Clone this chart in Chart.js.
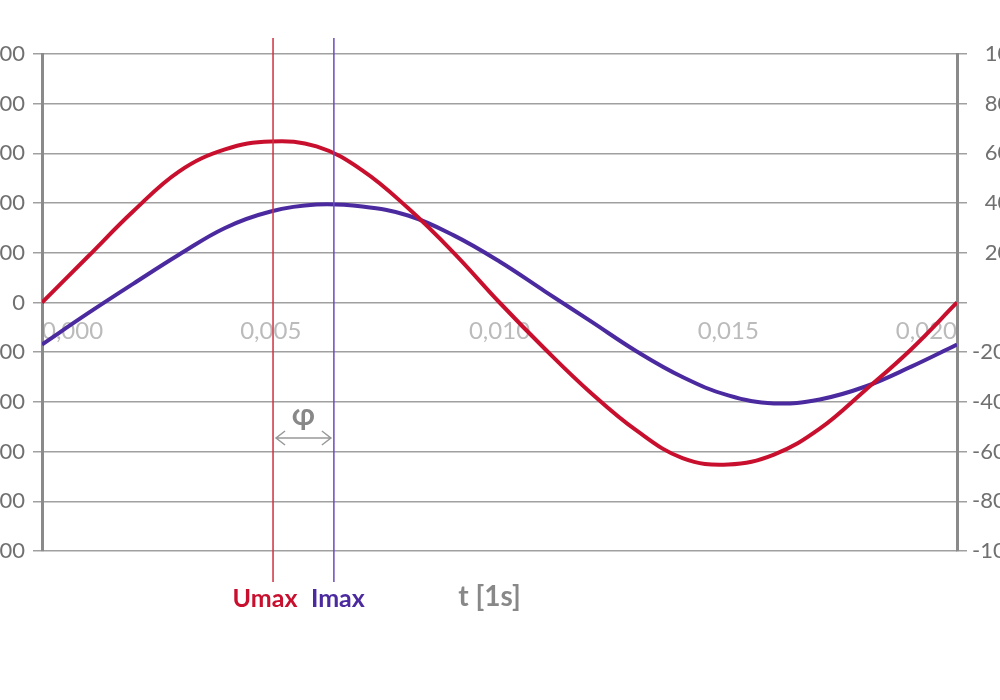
<!DOCTYPE html>
<html lang="en">
<head>
  <meta charset="UTF-8" />
  <title>U and I phase shift</title>
  <script src="https://cdn.jsdelivr.net/npm/chart.js"></script>
  <style>
    body { margin: 0; background: white; overflow: hidden; width: 1000px; height: 700px; position: relative; }
    #wrap { position: absolute; left: -30px; top: 0; width: 1060px; height: 700px; }
  </style>
</head>
<body>
  <div id="wrap"><canvas id="chart" width="1060" height="700"></canvas></div>

  <script>
    // time in seconds
    const times = [0, 0.001, 0.002, 0.003, 0.004, 0.005, 0.006, 0.007, 0.008, 0.009, 0.010,
                   0.011, 0.012, 0.013, 0.014, 0.015, 0.016, 0.017, 0.018, 0.019, 0.020];
    // voltage (left axis)
    const voltage = [0, 92, 184, 264, 308, 324, 314, 266, 190, 100, 0,
                     -94, -182, -258, -313, -326, -306, -254, -176, -94, 0];
    // current (right axis)
    const current = [-16.9, -4.4, 7.6, 19.3, 30, 36.6, 39.4, 38.6, 35, 27, 16.5,
                     4.4, -7.6, -19.7, -30, -37.4, -40.6, -39, -33.8, -25.8, -16.9];

    const markerTimes = [0.00505, 0.00638];
    const markerLabels = ['Umax', 'Imax'];
    const markerColors = ['#d0303f', '#6a4cc0'];
    const labelColors = ['#c8102e', '#4b2aa0'];

    const red = '#c8102e';
    const purple = '#4b2aa0';
    const gridColor = '#a0a0a0';
    const font = 'Lato, sans-serif';

    const annotations = {
      id: 'annotations',
      afterDatasetsDraw(chart) {
        const ctx = chart.ctx;
        const x = chart.scales.x;
        const area = chart.chartArea;
        const px = markerTimes.map(t => x.getPixelForValue(t));
        ctx.save();
        // vertical marker lines
        px.forEach((p, i) => {
          ctx.strokeStyle = markerColors[i];
          ctx.lineWidth = 1.5;
          ctx.beginPath();
          ctx.moveTo(p, area.top - 16);
          ctx.lineTo(p, area.bottom + 31);
          ctx.stroke();
        });
        // phi arrow
        const ay = 438;
        ctx.strokeStyle = '#999';
        ctx.lineWidth = 1.5;
        ctx.beginPath();
        ctx.moveTo(px[0] + 3, ay); ctx.lineTo(px[1] - 3, ay);
        ctx.moveTo(px[0] + 12, ay - 7); ctx.lineTo(px[0] + 3, ay); ctx.lineTo(px[0] + 12, ay + 7);
        ctx.moveTo(px[1] - 12, ay - 7); ctx.lineTo(px[1] - 3, ay); ctx.lineTo(px[1] - 12, ay + 7);
        ctx.stroke();
        ctx.fillStyle = '#888';
        ctx.font = 'bold 30px ' + font;
        ctx.textAlign = 'center';
        ctx.textBaseline = 'alphabetic';
        ctx.fillText('φ', (px[0] + px[1]) / 2, 425);
        // marker labels
        ctx.font = 'bold 25px ' + font;
        ctx.fillStyle = labelColors[0];
        ctx.fillText(markerLabels[0], px[0] - 8, 607);
        ctx.fillStyle = labelColors[1];
        ctx.fillText(markerLabels[1], px[1] + 4, 607);
        // time axis title
        ctx.fillStyle = '#888';
        ctx.font = 'bold 28px ' + font;
        ctx.fillText('t [1s]', (area.left + area.right) / 2 - 10, 606);
        ctx.restore();
      }
    };

    const ctx = document.getElementById('chart').getContext('2d');
    new Chart(ctx, {
      type: 'line',
      data: {
        labels: times,
        datasets: [
          {
            label: 'U',
            data: times.map((t, i) => ({ x: t, y: voltage[i] })),
            borderColor: red,
            borderWidth: 4,
            pointRadius: 0,
            tension: 0.4,
            yAxisID: 'y'
          },
          {
            label: 'I',
            data: times.map((t, i) => ({ x: t, y: current[i] })),
            borderColor: purple,
            borderWidth: 4,
            pointRadius: 0,
            tension: 0.4,
            yAxisID: 'y1'
          }
        ]
      },
      options: {
        responsive: false,
        animation: false,
        layout: { padding: { top: 54, bottom: 149 } },
        plugins: { legend: { display: false }, tooltip: { enabled: false } },
        scales: {
          x: {
            type: 'linear',
            min: 0,
            max: 0.02,
            position: { y: 0 },
            grid: { display: false, drawTicks: false },
            border: { display: false },
            ticks: {
              stepSize: 0.005,
              align: 'inner',
              padding: 14,
              color: '#bbb',
              font: { family: font, size: 24 },
              callback: v => v.toFixed(3).replace('.', ',')
            }
          },
          y: {
            position: 'left',
            min: -500,
            max: 500,
            afterFit: s => { s.width = 72; },
            grid: { color: gridColor, lineWidth: 1.5, tickLength: 9 },
            border: { color: '#8a8a8a', width: 3 },
            ticks: { stepSize: 100, padding: 8, color: '#707070', font: { family: font, size: 22 } }
          },
          y1: {
            position: 'right',
            min: -100,
            max: 100,
            afterFit: s => { s.width = 73; },
            grid: { drawOnChartArea: false, color: gridColor, lineWidth: 1.5, tickLength: 10 },
            border: { color: '#8a8a8a', width: 3 },
            ticks: {
              stepSize: 20,
              padding: 5,
              color: '#707070',
              font: { family: font, size: 22 },
              callback: v => (v === 0 ? '' : v > 0 ? '\u2007' + v : String(v))
            }
          }
        }
      },
      plugins: [annotations]
    });
  </script>
</body>
</html>
